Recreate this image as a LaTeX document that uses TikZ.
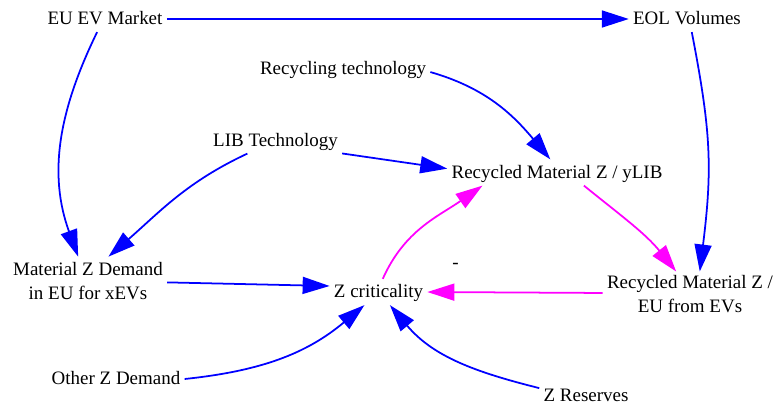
\documentclass[tikz,border=0pt]{standalone}
\usepackage{fontspec}
\setmainfont{Liberation Serif}
\usetikzlibrary{arrows.meta}
\definecolor{cblue}{HTML}{0000FF}
\definecolor{cmag}{HTML}{FF00FF}
\tikzset{
  var/.style={inner sep=0.08cm,font=\fontsize{10.8}{13.6}\selectfont,
    text height=0.83em,text depth=0.17em},
  var2/.style={inner sep=0.08cm,align=center,font=\fontsize{10.8}{13.6}\selectfont},
  link/.style={-{Triangle[length=0.54cm,width=0.34cm]},line width=1pt},
  pos link/.style={link,cblue},
  loop link/.style={link,cmag},
  sign/.style={inner sep=0pt,text=black,font=\fontsize{10.8}{13}\selectfont},
}
\begin{document}
\begin{tikzpicture}[x=0.02cm,y=0.02cm]
  \useasboundingbox (0,0) rectangle (775,403);
  % variables
  \node[var] (mkt) at (105,384) {EU EV Market};
  \node[var] (eol) at (687,384) {EOL Volumes};
  \node[var] (rtech) at (343,334) {Recycling technology};
  \node[var] (lib) at (275.5,262.5) {LIB Technology};
  \node[var] (ryl) at (557,230.5) {Recycled Material Z / yLIB};
  \node[var2,minimum height=0.96cm] (demand) at (88,122) {Material Z Demand\\in EU for xEVs};
  \node[var] (crit) at (378.5,111) {Z criticality};
  \node[var2,minimum height=0.86cm] (reu) at (690,108.5) {Recycled Material Z /\\EU from EVs};
  \node[var] (other) at (116,24) {Other Z Demand};
  \node[var] (res) at (586,7.5) {Z Reserves};
  % causal links
  \draw[pos link] (mkt.east) -- (eol.west);
  \draw[pos link] (mkt.239) to[out=244,in=110] (demand.112);
  \draw[pos link] (eol.290) to[out=281,in=83,looseness=1.1] (reu.67);
  \draw[pos link] (rtech.358) to[out=344,in=130] (ryl.117);
  \draw[pos link] (lib.349) -- (ryl.178);
  \draw[pos link] (lib.205) to[out=205,in=41] (demand.50);
  \draw[pos link] (demand.359) -- (crit.173);
  \draw[pos link] (other.east) to[out=6,in=220] (crit.223);
  \draw[pos link] (res.171) to[out=166,in=310] (crit.311);
  % feedback loop
  \draw[loop link] (ryl.334) to[out=321,in=129] (reu.121);
  \draw[loop link] (crit.72) to[out=66,in=215] (ryl.190);
  \draw[loop link] (reu.179) -- node[sign,pos=0.84,yshift=0.53cm] {-} (crit.east);
\end{tikzpicture}
\end{document}
